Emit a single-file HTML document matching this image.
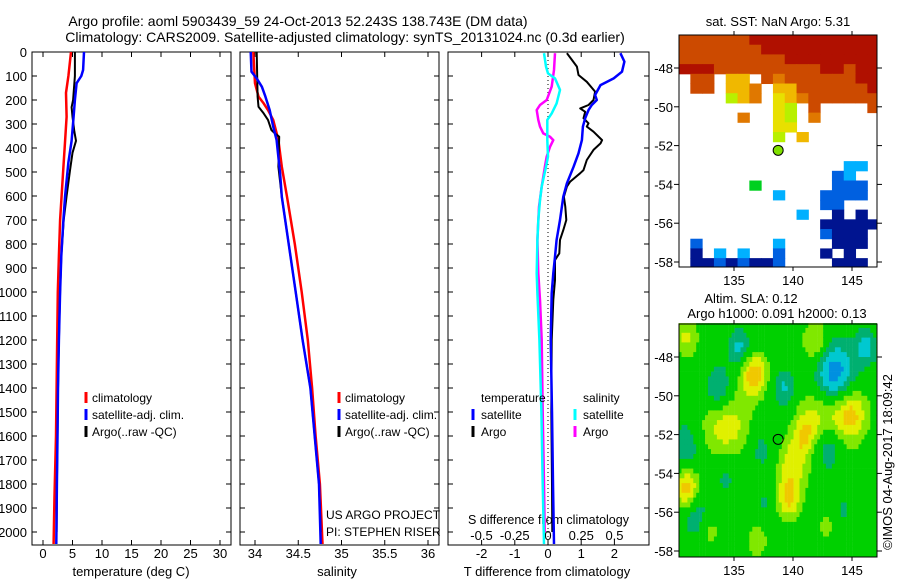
<!DOCTYPE html>
<html><head><meta charset="utf-8"><style>
html,body{margin:0;padding:0;background:#fff}
svg{display:block;font-family:"Liberation Sans",sans-serif}
</style></head><body>
<svg id="fig" width="900" height="580" viewBox="0 0 900 580" xmlns="http://www.w3.org/2000/svg">
<rect x="0" y="0" width="900" height="580" fill="#fff"/>
<text x="298" y="26" font-size="14" text-anchor="middle">Argo profile: aoml 5903439_59 24-Oct-2013 52.243S 138.743E (DM data)</text>
<text x="345" y="42" font-size="14" text-anchor="middle">Climatology: CARS2009. Satellite-adjusted climatology: synTS_20131024.nc (0.3d earlier)</text>
<g id="panels"></g>
<g id="maps"></g>
</svg>
<script>
// ---------- profile data ----------
const depthTicks = [0,100,200,300,400,500,600,700,800,900,1000,1100,1200,1300,1400,1500,1600,1700,1800,1900,2000];
const tempTicks = [0,5,10,15,20,25,30];
const salTicks = [34,34.5,35,35.5,36];
const tdiffTicks = [-2,-1,0,1,2];
const sdiffTicks = [-0.5,-0.25,0,0.25,0.5];
const sdiffTickLabels = ["-0.5","-0.25","0","0.25","0.5"];

const tClimDepth = [0,100,170,270,370,480,600,700,850,1000,1200,1400,1600,1850,2050];
const tClimVal = [4.75,4.3,3.9,4.0,3.75,3.45,3.15,2.9,2.7,2.5,2.4,2.3,2.2,1.95,1.8];
const tArgoDepth = [0,100,200,230,270,330,370,420,490,600,700,850,1000,1200,1400,1600,1800,2000];
const tArgoVal = [5.4,5.4,5.1,4.85,5.0,5.3,5.6,5.0,4.6,4.0,3.5,3.1,2.9,2.7,2.55,2.45,2.35,2.3];
const tSatDepth = [0,75,100,130,200,280,370,460,600,700,850,1000,1200,1400,1600,1800,2050];
const tSatVal = [6.95,6.8,6.5,5.7,5.4,5.15,4.85,4.3,3.75,3.45,3.1,2.9,2.7,2.55,2.45,2.35,2.25];

const sClimDepth = [0,130,186,214,242,283,367,478,603,800,1000,1200,1400,1600,1800,2050];
const sClimVal = [33.98,34.0,34.04,34.1,34.15,34.21,34.27,34.31,34.37,34.46,34.54,34.61,34.66,34.7,34.75,34.78];
const sSatDepth = [0,82,110,145,186,242,311,367,506,603,800,1000,1200,1400,1600,1800,2050];
const sSatVal = [33.95,33.96,34.02,34.08,34.12,34.17,34.21,34.25,34.29,34.31,34.39,34.47,34.55,34.64,34.69,34.74,34.76];
const sArgoDepth = [0,186,228,256,283,325,339,353,478,603,800,1000,1200,1400,1600,1800,2000];
const sArgoVal = [34.02,34.03,34.04,34.1,34.15,34.19,34.23,34.28,34.27,34.31,34.39,34.47,34.55,34.64,34.69,34.74,34.76];

const dtSatDepth = [5,40,82,110,138,179,200,221,242,276,311,367,422,478,547,603,700,783,853,922,1005,1200,1500,1800,2050];
const dtSatVal = [2.18,2.3,2.23,1.98,1.58,1.42,1.47,1.32,1.22,1.12,1.05,1.02,0.92,0.77,0.57,0.46,0.36,0.26,0.21,0.16,0.11,0.08,0.12,0.15,0.18];
const dtArgoDepth = [5,33,61,96,124,165,200,221,235,249,276,297,311,332,367,381,408,450,492,505,540,561,603,645,700,742,783,839,867,950,1033,1200,1500,1800,2000];
const dtArgoVal = [0.57,0.72,0.87,0.92,1.17,1.42,1.37,1.22,0.97,1.12,1.07,1.22,1.17,1.37,1.63,1.58,1.37,1.17,1.07,0.97,0.67,0.57,0.48,0.52,0.55,0.46,0.36,0.34,0.21,0.21,0.16,0.11,0.1,0.12,0.13];
const dsSatDepth = [5,61,89,110,158,214,256,283,367,436,478,561,617,700,783,922,1005,1200,1500,1800,2050];
const dsSatVal = [-0.03,-0.015,0,0.053,0.09,0.065,0.028,-0.005,-0.005,0,-0.015,-0.047,-0.06,-0.073,-0.08,-0.085,-0.08,-0.065,-0.05,-0.04,-0.03];
const dsArgoDepth = [5,75,144,200,221,242,283,311,339,353,367,395,436,478,561,645,783,922,1033,1200,1500,1800,2000];
const dsArgoVal = [0.053,0.045,0.028,-0.01,-0.06,-0.085,-0.073,-0.06,-0.035,0.015,0.04,0.015,-0.01,-0.023,-0.047,-0.068,-0.08,-0.073,-0.06,-0.047,-0.04,-0.03,-0.025];

// ---------- axis functions ----------
const yD = d => 52 + d*0.24;
const xT = t => 43 + t*5.9;
const xS = s => 255 + (s-34)*86.5;
const xDT = t => 548 + t*33.2;
const xDS = s => 548 + s*133;
const NS = "http://www.w3.org/2000/svg";
function mk(tag, attrs, parent){
  const e = document.createElementNS(NS, tag);
  for (const k in attrs) e.setAttribute(k, attrs[k]);
  parent.appendChild(e); return e;
}
const P = document.getElementById('panels');

function panel(x0, x1, name){
  const g = mk('g', {}, P);
  
  
  mk('rect', {x:x0, y:52, width:x1-x0, height:493, fill:'none', stroke:'#000', 'stroke-width':1}, g);
  depthTicks.forEach(d => {
    mk('line', {x1:x0, x2:x0+5, y1:yD(d), y2:yD(d), stroke:'#000'}, g);
    mk('line', {x1:x1-5, x2:x1, y1:yD(d), y2:yD(d), stroke:'#000'}, g);
  });
  return g;
}
function series(g, depths, vals, xf, color, w, name){
  const pts = depths.map((d,i) => xf(vals[i]).toFixed(1)+','+yD(d).toFixed(1)).join(' ');
  const pl = mk('polyline', {points:pts, fill:'none', stroke:color, 'stroke-width':w, 'stroke-linejoin':'round'}, g);
  
  
}
function xticks(g, ticks, xf, labels, ly){
  ticks.forEach((t,i) => {
    const x = xf(t);
    mk('line', {x1:x, x2:x, y1:52, y2:57, stroke:'#000'}, g);
    mk('line', {x1:x, x2:x, y1:540, y2:545, stroke:'#000'}, g);
    const tx = mk('text', {x:x, y:ly, 'font-size':13, 'text-anchor':'middle'}, g);
    tx.textContent = labels ? labels[i] : String(t);
    
    
  });
}
function txt(parent, x, y, s, size, name, anchor){
  const t = mk('text', {x:x, y:y, 'font-size':size, 'text-anchor':anchor||'start'}, parent);
  t.textContent = s;
  
  
  return t;
}
function legendMark(g, x, y, color){
  mk('line', {x1:x, x2:x, y1:y-10, y2:y+1, stroke:color, 'stroke-width':3}, g);
}

const dl = mk('g', {}, P);


depthTicks.forEach(d => txt(dl, 27, yD(d)+5, String(d), 13, 'y-tick-label', 'end'));

const g1 = panel(32, 231, 'temperature-panel');
xticks(g1, tempTicks, xT, null, 558);
series(g1, tClimDepth, tClimVal, xT, '#f00', 2.5, 'temp-climatology-line');
series(g1, tArgoDepth, tArgoVal, xT, '#000', 2, 'temp-argo-line');
series(g1, tSatDepth, tSatVal, xT, '#00f', 2.5, 'temp-satellite-line');
txt(g1, 131, 576, 'temperature (deg C)', 13, 'x-axis-title', 'middle');
legendMark(g1, 86, 402, '#f00'); txt(g1, 92, 402, 'climatology', 12, 'legend-entry');
legendMark(g1, 86, 419, '#00f'); txt(g1, 92, 419, 'satellite-adj. clim.', 12, 'legend-entry');
legendMark(g1, 86, 436, '#000'); txt(g1, 92, 436, 'Argo(..raw -QC)', 12, 'legend-entry');

const g2 = panel(240, 439, 'salinity-panel');
xticks(g2, salTicks, xS, null, 558);
series(g2, sClimDepth, sClimVal, xS, '#f00', 2.5, 'sal-climatology-line');
series(g2, sArgoDepth, sArgoVal, xS, '#000', 2, 'sal-argo-line');
series(g2, sSatDepth, sSatVal, xS, '#00f', 2.5, 'sal-satellite-line');
txt(g2, 337, 576, 'salinity', 13, 'x-axis-title', 'middle');
legendMark(g2, 339, 402, '#f00'); txt(g2, 345, 402, 'climatology', 12, 'legend-entry');
legendMark(g2, 339, 419, '#00f'); txt(g2, 345, 419, 'satellite-adj. clim.', 12, 'legend-entry');
legendMark(g2, 339, 436, '#000'); txt(g2, 345, 436, 'Argo(..raw -QC)', 12, 'legend-entry');
txt(g2, 326, 519, 'US ARGO PROJECT', 12, 'project-label');
txt(g2, 326, 536, 'PI: STEPHEN RISER', 12, 'pi-label');

const g3 = panel(448, 649, 'difference-panel');
xticks(g3, tdiffTicks, xDT, null, 558);
mk('line', {x1:548, x2:548, y1:52, y2:545, stroke:'#000', 'stroke-dasharray':'1,3'}, g3);
sdiffTicks.forEach((s,i) => txt(g3, xDS(s), 540, sdiffTickLabels[i], 13, 's-diff-tick-label', 'middle'));
txt(g3, 468, 524, 'S difference from climatology', 12.5, 's-diff-axis-title');
series(g3, dsArgoDepth, dsArgoVal, xDS, '#f0f', 2.5, 'sdiff-argo-line');
series(g3, dsSatDepth, dsSatVal, xDS, '#0ff', 2.5, 'sdiff-satellite-line');
series(g3, dtArgoDepth, dtArgoVal, xDT, '#000', 2, 'tdiff-argo-line');
series(g3, dtSatDepth, dtSatVal, xDT, '#00f', 2.5, 'tdiff-satellite-line');
txt(g3, 547, 576, 'T difference from climatology', 13, 'x-axis-title', 'middle');
txt(g3, 481, 402, 'temperature', 12, 'legend-header');
legendMark(g3, 473, 419, '#00f'); txt(g3, 481, 419, 'satellite', 12, 'legend-entry');
legendMark(g3, 473, 436, '#000'); txt(g3, 481, 436, 'Argo', 12, 'legend-entry');
txt(g3, 583, 402, 'salinity', 12, 'legend-header');
legendMark(g3, 575, 419, '#0ff'); txt(g3, 583, 419, 'satellite', 12, 'legend-entry');
legendMark(g3, 575, 436, '#f0f'); txt(g3, 583, 436, 'Argo', 12, 'legend-entry');

// ---------- maps ----------
const M = document.getElementById('maps');
const lonX = l => 734 + (l-135)*11.8;
const latY1 = la => 68 + (-48-la)*19.4;
const latY2 = la => 357 + (-48-la)*19.4;
const mapLonTicks = [135,140,145];
const mapLatTicks = [-48,-50,-52,-54,-56,-58];
const argoLon = 138.743, argoLat = -52.243;

const sstRows = [
"OOOOOORRRRRRRRRRR",
"OOOOOOORRRRRRRRRR",
"OOOOOOOOORRRRRRRR",
"RRROOOOOOOOORRORR",
".OO.YY.OoOOOOOORR",
".OO.YYo.YYOOOOOOR",
"....gYo.yYoOOOOOO",
"........yg.O....O",
".....o..yg.o.....",
"........yy.......",
"........g.Y......",
".................",
".................",
"..............bb.",
".............Bb..",
"......G......BBB.",
"........b...BBBB.",
"............BB...",
"..........b..N.N.",
"............NNNNN",
"............BNNN.",
".B......b....NNN.",
".N.b.b..B...N.N..",
".NNBNBNNB....NNN."];
const sstColors = {R:'#b01000',O:'#cc4a00',o:'#e07800',Y:'#f0b800',y:'#e8e000',g:'#b8f000',G:'#00d020',b:'#00b0ff',B:'#0060e0',N:'#001490'};

const slaLon = [143.4,135.5,133.7,139.3,146.2,143.0,130.9,134.3,137.3,131.8,137.8,144.0,136.7,134.3,143.0,145.0,140.0,139.6,131.0,142.0,131.0,143.0,137.0,133.0,141.0];
const slaLat = [-49.1,-47.6,-49.7,-49.6,-47.5,-52.6,-52.6,-54.0,-52.8,-56.2,-55.5,-56.0,-48.9,-51.5,-50.8,-50.9,-53.5,-55.3,-54.8,-47.3,-47.0,-56.6,-57.5,-57.0,-52.0];
const slaAmp = [-1.0,-0.45,-0.5,-0.4,-0.45,-0.55,-0.35,-0.25,-0.25,-0.3,-0.2,-0.2,0.75,0.5,0.7,0.5,0.45,0.6,0.7,0.45,0.4,0.3,0.3,0.25,0.4];
const slaRad = [1.8,1.0,1.2,1.0,0.9,1.3,1.2,1.3,1.0,1.2,1.0,1.3,1.1,2.0,2.2,1.3,1.3,1.1,1.0,1.2,1.0,0.9,0.9,0.9,1.0];
function slaColor(v){
  if (v < -0.8) return '#0030d0';
  if (v < -0.55) return '#0090e0';
  if (v < -0.35) return '#00c8d0';
  if (v < -0.15) return '#00b070';
  if (v < 0.15) return '#00d000';
  if (v < 0.35) return '#80e800';
  if (v < 0.55) return '#e0f000';
  if (v < 0.75) return '#f0c800';
  if (v < 0.9) return '#f09000';
  return '#e06000';
}

function mapFrame(g, top, bottom, latY){
  mk('rect', {x:679, y:top, width:198, height:bottom-top, fill:'none', stroke:'#000'}, g);
  mapLonTicks.forEach(l => {
    mk('line', {x1:lonX(l), x2:lonX(l), y1:top-4, y2:top, stroke:'#000'}, g);
    mk('line', {x1:lonX(l), x2:lonX(l), y1:bottom, y2:bottom+4, stroke:'#000'}, g);
    txt(g, lonX(l), bottom+18, String(l), 13, 'map-lon-label', 'middle');
  });
  mapLatTicks.forEach(la => {
    mk('line', {x1:674, x2:679, y1:latY(la), y2:latY(la), stroke:'#000'}, g);
    mk('line', {x1:877, x2:882, y1:latY(la), y2:latY(la), stroke:'#000'}, g);
    txt(g, 673, latY(la)+5, String(la), 13, 'map-lat-label', 'end');
  });
}

const m1 = mk('g', {}, M);


const cp = mk('clipPath', {id:'c1'}, m1);
mk('rect', {x:679, y:35, width:198, height:232}, cp);
const cells1 = mk('g', {'clip-path':'url(#c1)'}, m1);
sstRows.forEach((row, r) => {
  for (let c = 0; c < row.length; c++){
    const ch = row[c]; if (ch === '.') continue;
    const lon0 = 130.3 + c, lat0 = -46.3 - 0.5*r;
    const rc = mk('rect', {x:lonX(lon0), y:latY1(lat0), width:12.3, height:10.2, fill:sstColors[ch]}, cells1);
    
    
  }
});
mapFrame(m1, 35, 267, latY1);
txt(m1, 778, 26, 'sat. SST: NaN Argo: 5.31', 13, 'sst-map-title', 'middle');
const dot1 = mk('circle', {cx:lonX(argoLon), cy:latY1(argoLat), r:5, fill:'#80e000', stroke:'#000'}, m1);



const m2 = mk('g', {}, M);


const step = 0.25;
for (let i = 0; i < 68; i++){
  for (let j = 0; j < 50; j++){
    const lon = 130.3 + i*step + step/2, lat = -46.25 - j*step - step/2;
    let v = 0;
    for (let k = 0; k < slaLon.length; k++){
      const dx = (lon-slaLon[k])/slaRad[k], dy = (lat-slaLat[k])/slaRad[k];
      v += slaAmp[k]*Math.exp(-(dx*dx+dy*dy));
    }
    const x = lonX(lon-step/2), y = latY2(lat+step/2);
    if (x >= 877 || y >= 557) continue;
    const w = Math.min(3.2, 877-x), h = Math.min(5.2, 557-y);
    const rc = mk('rect', {x:x.toFixed(1), y:y.toFixed(1), width:w.toFixed(1), height:h.toFixed(1), fill:slaColor(v)}, m2);
    
    
  }
}
mapFrame(m2, 324, 557, latY2);
txt(m2, 751, 303, 'Altim. SLA: 0.12', 13, 'sla-map-title', 'middle');
txt(m2, 777, 318, 'Argo h1000: 0.091 h2000: 0.13', 13, 'sla-map-subtitle', 'middle');
const dot2 = mk('circle', {cx:lonX(argoLon), cy:latY2(argoLat), r:5, fill:'none', stroke:'#000'}, m2);


const stamp = txt(M, 0, 0, '©IMOS 04-Aug-2017 18:09:42', 13, 'imos-timestamp', 'middle');
stamp.setAttribute('transform', 'translate(892,462) rotate(-90)');
</script>
</body></html>
